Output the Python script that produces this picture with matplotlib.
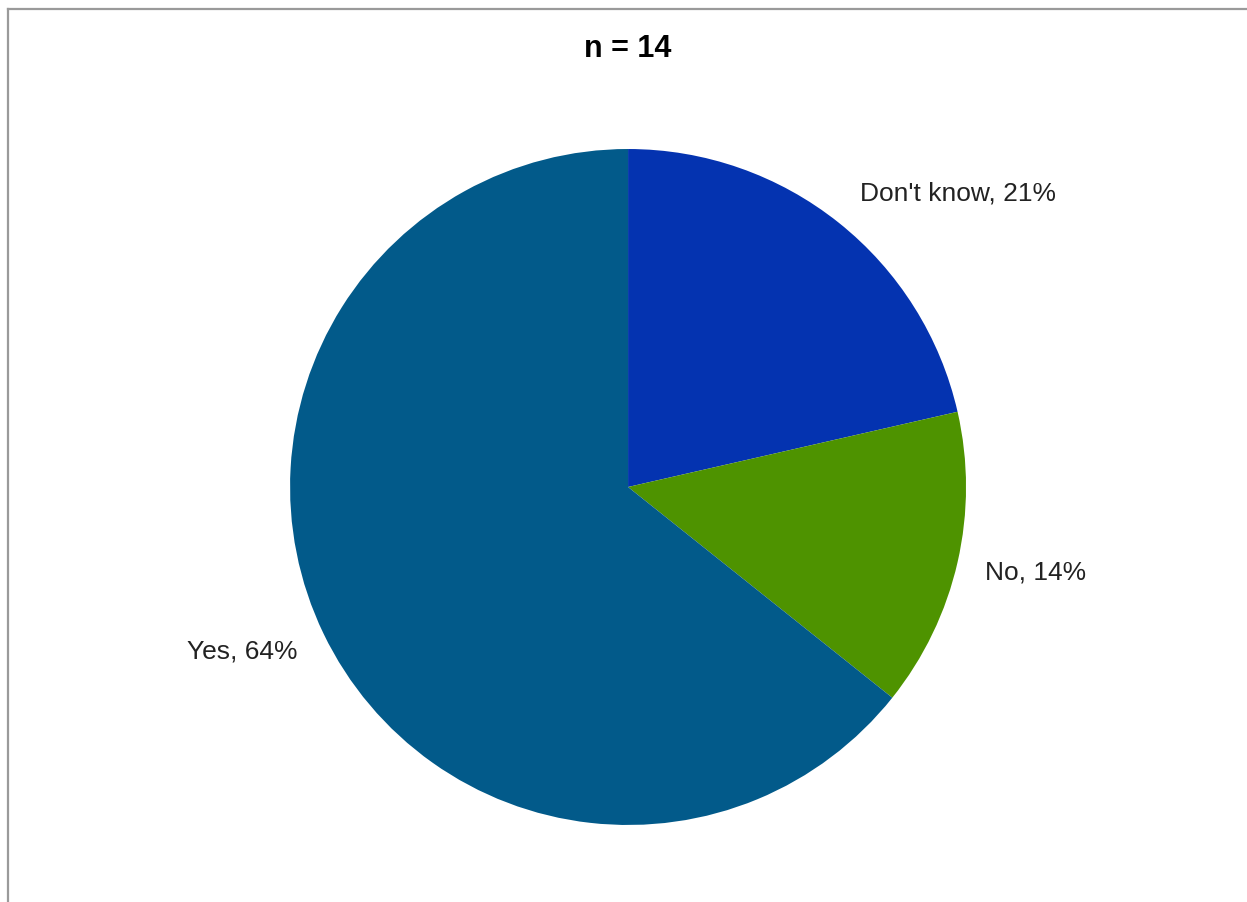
import matplotlib

matplotlib.use("Agg")
import matplotlib.pyplot as plt
from matplotlib.lines import Line2D

plt.rcParams["font.family"] = ["Liberation Sans", "DejaVu Sans"]

# survey answers, n = 14
answers = ["Don't know", "No", "Yes"]
counts = [3, 2, 9]
percents = ["21%", "14%", "64%"]
colors = ["#0433B0", "#4E9300", "#025A8A"]
title = "n = 14"

fig = plt.figure(figsize=(12.47, 9.02), dpi=100)

# grey frame at top and left, like the original export
fig.add_artist(Line2D([0.0065, 1.0], [0.9905, 0.9905], color="#9a9a9a", lw=1.6,
                      transform=fig.transFigure))
fig.add_artist(Line2D([0.0065, 0.0065], [0.0, 0.9905], color="#9a9a9a", lw=1.6,
                      transform=fig.transFigure))

ax = fig.add_axes([0.2326, 0.0854, 0.5421, 0.7494])
ax.pie(counts, colors=colors, startangle=90, counterclock=False, radius=1.0,
       wedgeprops={"linewidth": 0})
ax.set_xlim(-1, 1)
ax.set_ylim(-1, 1)
ax.set_aspect("equal")
ax.axis("off")

# label placement (data coords, pie radius = 1)
label_pos = [(0.686, 0.868, "left"), (1.056, -0.254, "left"), (-0.979, -0.486, "right")]
for name, pct, (x, y, ha) in zip(answers, percents, label_pos):
    ax.text(x, y, f"{name}, {pct}", ha=ha, va="center", fontsize=19,
            color="#222222", clip_on=False)

fig.text(0.5036, 0.946, title, ha="center", va="center", fontsize=22,
         fontweight="bold", color="black")

fig.savefig("out.png", dpi=100)
plt.close(fig)
